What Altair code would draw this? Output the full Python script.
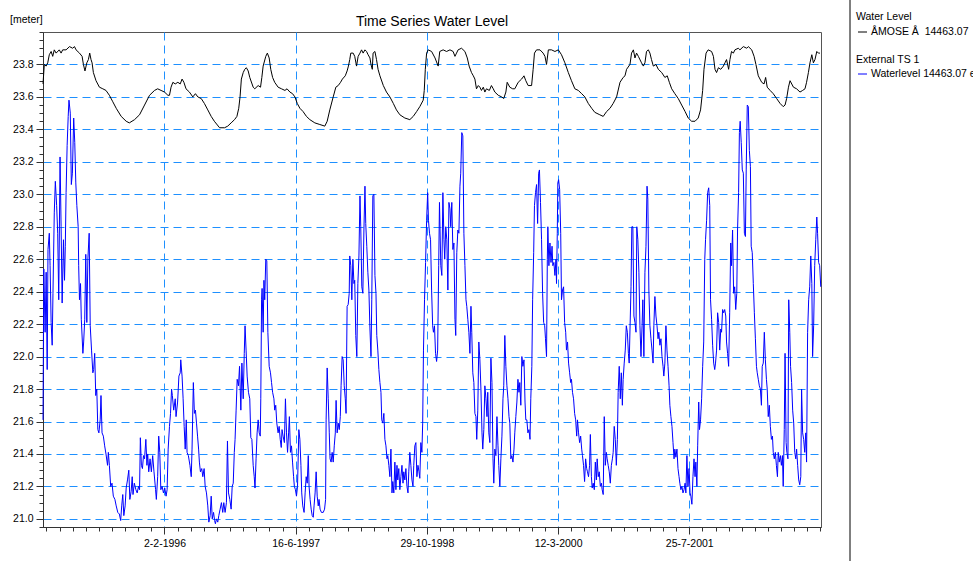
import datetime as dt

import altair as alt
import pandas as pd

# Daily series are shown from this date; offsets below are days after it.
START = dt.date(1994, 10, 27)
END_DAY = 2965

TITLE = "Time Series Water Level"
UNIT = "[meter]"
LEGEND_GROUPS = ["Water Level", "External TS 1"]
LEGEND_ITEMS = ["ÅMOSE Å\u00a0 14463.07", "Waterlevel 14463.07 e"]

# Water level, ÅMOSE Å 14463.07: (day offset, level in m)
LEVEL_A = [(0, 23.68), (5, 23.80), (12, 23.79), (18, 23.81), (24, 23.86), (31, 23.88), (37, 23.85), (43, 23.89),
           (50, 23.87), (62, 23.89), (69, 23.87), (75, 23.89), (88, 23.89), (101, 23.91), (113, 23.90), (120, 23.91),
           (126, 23.89), (139, 23.87), (149, 23.85), (154, 23.80), (160, 23.76), (167, 23.81), (173, 23.83),
           (178, 23.87), (183, 23.83), (187, 23.81), (192, 23.75), (202, 23.70), (215, 23.66), (228, 23.65),
           (240, 23.64), (253, 23.61), (266, 23.57), (279, 23.53), (298, 23.48), (317, 23.45), (329, 23.44),
           (349, 23.46), (368, 23.49), (387, 23.55), (406, 23.61), (425, 23.64), (437, 23.65), (450, 23.64),
           (463, 23.63), (476, 23.61), (482, 23.61), (488, 23.66), (495, 23.69), (504, 23.68), (514, 23.69),
           (523, 23.68), (530, 23.71), (537, 23.69), (545, 23.65), (558, 23.63), (571, 23.60), (581, 23.62),
           (590, 23.60), (603, 23.59), (615, 23.56), (628, 23.52), (641, 23.48), (653, 23.45), (673, 23.41),
           (692, 23.41), (704, 23.42), (717, 23.44), (730, 23.46), (739, 23.48), (746, 23.53), (751, 23.60),
           (756, 23.71)]
LEVEL_B = [(763, 23.75), (769, 23.77), (775, 23.78), (782, 23.76), (788, 23.72), (801, 23.66), (807, 23.65),
           (820, 23.67), (829, 23.66), (834, 23.72), (839, 23.79), (849, 23.85), (855, 23.87), (862, 23.84),
           (868, 23.77), (875, 23.72), (883, 23.69), (896, 23.66), (909, 23.65), (922, 23.64), (930, 23.65),
           (941, 23.63), (951, 23.62), (960, 23.60), (969, 23.56), (979, 23.53), (991, 23.51), (1004, 23.48),
           (1017, 23.46), (1036, 23.44), (1055, 23.43), (1074, 23.42), (1083, 23.45), (1093, 23.52), (1106, 23.60),
           (1116, 23.66), (1125, 23.67), (1134, 23.69), (1141, 23.71), (1152, 23.73), (1159, 23.76), (1164, 23.79),
           (1169, 23.83), (1173, 23.87), (1182, 23.87), (1188, 23.85), (1195, 23.79), (1201, 23.85), (1208, 23.87),
           (1214, 23.89), (1220, 23.87), (1227, 23.89), (1233, 23.88), (1239, 23.86), (1246, 23.84), (1250, 23.80),
           (1255, 23.77), (1258, 23.87), (1265, 23.88), (1271, 23.83), (1277, 23.77), (1284, 23.73), (1297, 23.67),
           (1309, 23.63), (1322, 23.60), (1335, 23.56), (1347, 23.52), (1360, 23.49), (1379, 23.47), (1398, 23.46),
           (1411, 23.48), (1424, 23.51), (1436, 23.54), (1449, 23.58), (1453, 23.64), (1457, 23.77), (1462, 23.87),
           (1468, 23.89), (1481, 23.88), (1494, 23.84), (1506, 23.79)]
LEVEL_C = [(1512, 23.88), (1525, 23.89), (1538, 23.88), (1551, 23.89), (1563, 23.88), (1570, 23.85), (1576, 23.87),
           (1582, 23.89), (1595, 23.90), (1608, 23.88), (1617, 23.84), (1624, 23.79), (1633, 23.75), (1640, 23.73),
           (1646, 23.71), (1652, 23.65), (1659, 23.67), (1665, 23.66), (1671, 23.64), (1678, 23.66), (1684, 23.63),
           (1690, 23.65), (1701, 23.64), (1709, 23.67), (1716, 23.65), (1722, 23.63), (1735, 23.61), (1748, 23.60),
           (1756, 23.59), (1764, 23.63), (1769, 23.69), (1779, 23.66), (1790, 23.65), (1798, 23.65), (1811, 23.69),
           (1824, 23.71), (1833, 23.73), (1840, 23.70), (1849, 23.67), (1862, 23.67), (1868, 23.77), (1873, 23.87),
           (1881, 23.89), (1894, 23.89), (1906, 23.87), (1913, 23.85), (1919, 23.80), (1926, 23.89), (1938, 23.89),
           (1951, 23.88), (1964, 23.89), (1976, 23.86), (1989, 23.81), (2002, 23.75), (2014, 23.70), (2027, 23.65),
           (2040, 23.64), (2053, 23.62), (2065, 23.60), (2078, 23.56), (2091, 23.53), (2103, 23.505), (2122, 23.49),
           (2135, 23.48), (2148, 23.51), (2161, 23.53), (2173, 23.56), (2186, 23.60), (2199, 23.69), (2211, 23.72),
           (2218, 23.73), (2224, 23.77), (2237, 23.80), (2243, 23.87), (2250, 23.89), (2256, 23.84), (2262, 23.87),
           (2269, 23.85)]
LEVEL_D = [(2281, 23.81), (2288, 23.79), (2294, 23.81), (2300, 23.88), (2307, 23.89), (2313, 23.87), (2319, 23.83),
           (2326, 23.79), (2336, 23.80), (2345, 23.77), (2358, 23.75), (2370, 23.72), (2379, 23.73), (2387, 23.69),
           (2396, 23.65), (2408, 23.62), (2421, 23.59), (2434, 23.55), (2447, 23.51), (2459, 23.47), (2472, 23.45),
           (2485, 23.45), (2497, 23.47), (2506, 23.52), (2514, 23.64), (2519, 23.77), (2527, 23.87), (2535, 23.89),
           (2548, 23.88), (2555, 23.85), (2561, 23.77), (2567, 23.75), (2574, 23.78), (2583, 23.77), (2593, 23.79),
           (2599, 23.81), (2605, 23.83), (2613, 23.77), (2618, 23.83), (2624, 23.88), (2631, 23.87), (2637, 23.89),
           (2650, 23.90), (2656, 23.89), (2669, 23.91), (2682, 23.90), (2688, 23.91), (2701, 23.89), (2710, 23.85),
           (2717, 23.80), (2726, 23.73), (2739, 23.69), (2748, 23.68), (2754, 23.72), (2760, 23.66), (2771, 23.64),
           (2783, 23.62), (2796, 23.59), (2809, 23.56), (2821, 23.54), (2828, 23.55), (2834, 23.59), (2841, 23.66),
           (2847, 23.70), (2860, 23.66), (2872, 23.65), (2885, 23.63), (2895, 23.64), (2904, 23.65), (2910, 23.69),
           (2917, 23.75), (2923, 23.81), (2930, 23.86), (2936, 23.81), (2942, 23.83), (2949, 23.88), (2955, 23.87),
           (2961, 23.87)]

# External TS 1, Waterlevel 14463.07: (day offset, level in m)
EXT_A = [(0, 21.61), (3, 22.54), (8, 22.15), (12, 22.52), (16, 21.92), (19, 22.66), (24, 22.76), (27, 22.56),
         (31, 22.21), (35, 22.07), (38, 22.39), (43, 22.89), (47, 23.08), (52, 22.93), (56, 22.76), (60, 22.35),
         (65, 23.23), (69, 22.80), (73, 22.33), (78, 22.72), (82, 22.47), (85, 22.68), (88, 23.01), (92, 23.30),
         (96, 23.48), (99, 23.58), (104, 23.50), (108, 23.06), (112, 23.13), (117, 23.47), (121, 23.32), (125, 23.07),
         (129, 22.93), (134, 22.80), (136, 22.56), (139, 22.35), (143, 22.45), (146, 22.23), (152, 22.02),
         (155, 22.09), (159, 22.23), (163, 22.63), (167, 22.21), (171, 22.60), (176, 22.76), (180, 22.19),
         (185, 22.04), (190, 21.90), (193, 21.92), (197, 22.02), (201, 21.76), (205, 21.80), (209, 21.55),
         (213, 21.53), (218, 21.61), (221, 21.76), (225, 21.53), (230, 21.51), (235, 21.45), (240, 21.40),
         (246, 21.33), (249, 21.41), (253, 21.33), (258, 21.20), (263, 21.22), (268, 21.14), (274, 21.12),
         (279, 21.08), (285, 21.04), (291, 21.03), (296, 20.99), (300, 21.08), (304, 21.15), (308, 21.02),
         (313, 21.08), (317, 21.19), (322, 21.24), (327, 21.30), (331, 21.12), (336, 21.17), (340, 21.26),
         (343, 21.15), (348, 21.22), (354, 21.18), (359, 21.16), (364, 21.20), (368, 21.18), (371, 21.50),
         (375, 21.33), (379, 21.31), (383, 21.39), (387, 21.37), (392, 21.49), (396, 21.33), (399, 21.40),
         (403, 21.29), (408, 21.37), (413, 21.29), (418, 21.39), (423, 21.29), (429, 21.18), (432, 21.12),
         (437, 21.26), (441, 21.51), (445, 21.41), (449, 21.18), (454, 21.20), (459, 21.16), (464, 21.19),
         (469, 21.14), (473, 21.18), (477, 21.43), (482, 21.57), (486, 21.65), (490, 21.80), (493, 21.76),
         (498, 21.67), (504, 21.74), (507, 21.63), (513, 21.72), (518, 21.88), (523, 21.90), (525, 21.98),
         (530, 21.88), (534, 21.74), (538, 21.57), (542, 21.43), (546, 21.61), (549, 21.41), (554, 21.39),
         (560, 21.33), (565, 21.26), (568, 21.43), (573, 21.84), (577, 21.65), (581, 21.67), (585, 21.59),
         (589, 21.51), (593, 21.43), (596, 21.35), (600, 21.29), (605, 21.31), (609, 21.26), (614, 21.31),
         (618, 21.20), (623, 21.16), (628, 21.08), (632, 20.98), (637, 21.02), (641, 21.14), (645, 21.00),
         (650, 21.04), (654, 20.99), (657, 20.97), (661, 21.00), (666, 20.98), (670, 21.02), (675, 21.06),
         (680, 21.10), (685, 21.04), (689, 21.10), (694, 21.04), (699, 21.10), (703, 21.48), (707, 21.16),
         (712, 21.12), (717, 21.06), (721, 21.20), (725, 21.22), (729, 21.41), (732, 21.49), (736, 21.67),
         (740, 21.86), (745, 21.82), (749, 21.94)]
EXT_B = [(754, 21.67), (758, 21.96), (763, 21.74), (767, 22.02), (770, 22.19), (774, 22.04), (778, 21.88),
         (783, 21.78), (788, 21.74), (792, 21.50), (796, 21.49), (801, 21.33), (805, 21.26), (808, 21.19),
         (812, 21.37), (816, 21.53), (820, 21.61), (824, 21.53), (828, 21.51), (830, 21.74), (833, 22.35),
         (835, 22.42), (839, 22.15), (842, 22.47), (845, 22.35), (849, 22.60), (853, 22.59), (857, 22.15),
         (862, 21.94), (867, 21.90), (871, 21.84), (875, 21.78), (880, 21.74), (883, 21.67), (887, 21.70),
         (891, 21.59), (896, 21.53), (900, 21.57), (904, 21.49), (908, 21.44), (911, 21.55), (915, 21.51),
         (920, 21.47), (924, 21.74), (928, 21.53), (932, 21.41), (936, 21.53), (939, 21.63), (943, 21.41),
         (947, 21.45), (951, 21.35), (955, 21.26), (958, 21.20), (962, 21.18), (966, 21.14), (970, 21.20),
         (975, 21.55), (979, 21.49), (983, 21.33), (986, 21.16), (990, 21.08), (995, 21.04), (999, 21.16),
         (1003, 21.26), (1007, 21.22), (1011, 21.39), (1014, 21.20), (1018, 21.12), (1022, 21.06), (1026, 21.02),
         (1030, 21.01), (1033, 21.08), (1037, 21.16), (1041, 21.29), (1045, 21.14), (1049, 21.08), (1052, 21.12),
         (1056, 21.06), (1061, 21.04), (1068, 21.04), (1073, 21.06), (1077, 21.12), (1079, 21.61), (1083, 21.93),
         (1087, 21.74), (1091, 21.53), (1094, 21.37), (1098, 21.35), (1102, 21.41), (1106, 21.35), (1110, 21.45),
         (1114, 21.53), (1117, 21.73), (1121, 21.53), (1125, 21.59), (1129, 21.55), (1133, 21.63), (1136, 21.82),
         (1140, 22.00), (1144, 21.98), (1148, 21.82), (1152, 21.74), (1155, 21.65), (1159, 22.31), (1163, 22.32),
         (1167, 22.39), (1169, 22.62), (1173, 22.56), (1177, 22.35), (1181, 22.60), (1185, 22.45), (1188, 22.47),
         (1192, 22.13), (1196, 22.00), (1200, 22.45), (1204, 22.62), (1208, 22.99), (1211, 22.80), (1215, 22.43),
         (1219, 22.39), (1223, 22.78), (1227, 23.05), (1230, 22.82), (1234, 22.68), (1238, 22.52), (1242, 22.41),
         (1246, 22.17), (1250, 22.00), (1253, 22.35), (1257, 22.99), (1261, 23.00), (1265, 22.50), (1269, 22.39),
         (1272, 22.13), (1276, 22.04), (1280, 21.92), (1284, 21.84), (1288, 21.78), (1291, 21.61), (1295, 21.59),
         (1299, 21.65), (1303, 21.49), (1307, 21.45), (1311, 21.37), (1314, 21.39), (1318, 21.33), (1322, 21.26),
         (1326, 21.43), (1330, 21.16), (1333, 21.23), (1337, 21.16), (1341, 21.35), (1345, 21.18), (1349, 21.33),
         (1352, 21.24), (1356, 21.31), (1360, 21.18), (1364, 21.26), (1368, 21.33), (1372, 21.22), (1375, 21.29),
         (1379, 21.24), (1383, 21.31), (1387, 21.20), (1391, 21.16), (1394, 21.29), (1398, 21.41), (1402, 21.33),
         (1406, 21.24), (1410, 21.20), (1413, 21.33), (1417, 21.45), (1421, 21.47), (1425, 21.26), (1429, 21.33),
         (1433, 21.29), (1436, 21.25), (1440, 21.47), (1444, 21.41), (1447, 21.59), (1450, 22.04), (1454, 22.35),
         (1458, 22.58), (1462, 22.84), (1466, 23.01), (1469, 22.84), (1473, 22.76), (1477, 22.72), (1481, 22.41),
         (1485, 22.19), (1488, 22.15), (1492, 22.19), (1496, 22.02), (1500, 21.97), (1504, 22.04), (1508, 22.56),
         (1511, 22.95)]
EXT_C = [(1516, 22.56), (1520, 22.50), (1524, 23.01), (1528, 22.72), (1531, 22.60), (1535, 22.80), (1539, 22.72),
         (1543, 22.41), (1547, 22.95), (1551, 22.91), (1554, 22.80), (1558, 22.95), (1562, 22.66), (1566, 22.70),
         (1570, 22.23), (1573, 22.13), (1577, 22.64), (1581, 22.78), (1585, 22.76), (1589, 23.05), (1592, 23.13),
         (1596, 23.38), (1600, 23.36), (1604, 22.76), (1608, 22.56), (1612, 22.35), (1615, 22.31), (1619, 22.23),
         (1623, 22.15), (1627, 22.02), (1631, 22.31), (1634, 22.15), (1638, 21.90), (1642, 21.84), (1646, 21.65),
         (1650, 21.63), (1653, 21.49), (1657, 21.67), (1661, 22.09), (1665, 21.98), (1669, 21.80), (1673, 21.53),
         (1676, 21.43), (1680, 21.55), (1684, 21.82), (1688, 21.74), (1692, 21.63), (1695, 21.78), (1699, 21.53),
         (1703, 21.47), (1707, 21.99), (1711, 21.84), (1715, 21.37), (1718, 21.22), (1722, 21.43), (1726, 21.39),
         (1730, 21.63), (1734, 21.45), (1737, 21.33), (1741, 21.20), (1745, 21.37), (1749, 21.51), (1753, 21.74),
         (1756, 21.82), (1760, 22.13), (1764, 21.94), (1768, 21.82), (1772, 21.74), (1776, 21.63), (1779, 21.59),
         (1783, 21.37), (1787, 21.39), (1791, 21.35), (1795, 21.43), (1798, 21.53), (1802, 21.63), (1806, 21.72),
         (1810, 21.86), (1814, 21.78), (1817, 21.84), (1821, 21.70), (1825, 22.00), (1829, 21.94), (1833, 21.98),
         (1837, 21.72), (1840, 21.61), (1844, 21.61), (1848, 21.53), (1852, 21.55), (1856, 21.49), (1859, 21.74),
         (1863, 21.94), (1866, 22.35), (1870, 22.64), (1873, 22.93), (1877, 23.01), (1881, 23.06), (1885, 22.82),
         (1889, 23.13), (1892, 23.15), (1896, 22.95), (1900, 22.72), (1904, 22.39), (1908, 22.21), (1912, 22.19),
         (1915, 22.11), (1919, 22.00), (1922, 22.60), (1924, 22.80), (1928, 22.56), (1932, 22.70), (1936, 22.58),
         (1940, 22.68), (1943, 22.56), (1947, 22.58), (1951, 22.50), (1955, 22.60), (1957, 22.45), (1960, 22.76),
         (1962, 23.07), (1965, 23.09), (1969, 23.03), (1973, 22.76), (1976, 22.35), (1980, 22.41), (1984, 22.43),
         (1988, 22.21), (1992, 22.15), (1995, 22.04), (1999, 22.09), (2003, 21.96), (2007, 21.90), (2011, 21.84),
         (2014, 21.86), (2018, 21.78), (2022, 21.74), (2026, 21.65), (2030, 21.61), (2034, 21.51), (2037, 21.61),
         (2041, 21.53), (2045, 21.47), (2049, 21.51), (2053, 21.43), (2056, 21.39), (2060, 21.33), (2064, 21.23),
         (2068, 21.37), (2072, 21.31), (2075, 21.29), (2079, 21.26), (2083, 21.33), (2086, 21.52), (2090, 21.26),
         (2093, 21.19), (2097, 21.22), (2101, 21.18), (2105, 21.35), (2109, 21.24), (2112, 21.37), (2116, 21.26),
         (2120, 21.29), (2124, 21.20), (2128, 21.22), (2131, 21.18), (2135, 21.15), (2139, 21.63), (2143, 21.33),
         (2147, 21.41), (2150, 21.37), (2154, 21.33), (2158, 21.29), (2162, 21.22), (2166, 21.33), (2170, 21.37),
         (2173, 21.41), (2177, 21.57), (2181, 21.49), (2185, 21.33), (2189, 21.49), (2192, 21.78), (2196, 21.94),
         (2200, 21.74), (2204, 21.90), (2208, 21.70), (2211, 21.86), (2215, 21.96), (2219, 22.04), (2223, 22.19),
         (2227, 22.15), (2231, 22.02), (2234, 21.96)]
EXT_D = [(2241, 22.43), (2244, 22.80), (2248, 22.80), (2252, 22.25), (2256, 22.21), (2260, 22.15), (2263, 22.80),
         (2267, 22.72), (2271, 22.52), (2275, 22.19), (2279, 22.00), (2283, 22.19), (2286, 22.35), (2290, 22.00),
         (2294, 22.52), (2298, 22.68), (2302, 23.05), (2305, 22.97), (2309, 22.41), (2313, 22.19), (2317, 22.11),
         (2321, 22.04), (2325, 21.96), (2328, 22.19), (2332, 22.37), (2336, 22.25), (2340, 22.19), (2344, 22.11),
         (2347, 22.15), (2351, 22.07), (2355, 22.11), (2359, 22.00), (2363, 21.94), (2366, 21.88), (2370, 21.96),
         (2374, 22.19), (2378, 22.04), (2382, 21.94), (2386, 21.82), (2389, 21.70), (2393, 21.63), (2397, 21.57),
         (2401, 21.47), (2405, 21.37), (2408, 21.43), (2412, 21.38), (2416, 21.43), (2420, 21.31), (2424, 21.26),
         (2427, 21.22), (2431, 21.18), (2435, 21.20), (2439, 21.16), (2443, 21.18), (2447, 21.22), (2450, 21.16),
         (2454, 21.39), (2458, 21.20), (2462, 21.31), (2466, 21.16), (2469, 21.14), (2473, 21.09), (2477, 21.26),
         (2481, 21.37), (2485, 21.26), (2488, 21.35), (2492, 21.20), (2495, 21.45), (2499, 21.72), (2502, 21.55),
         (2506, 21.61), (2510, 21.74), (2514, 21.94), (2518, 22.09), (2522, 22.60), (2525, 22.72), (2529, 22.84),
         (2533, 23.01), (2537, 23.04), (2541, 22.93), (2544, 22.35), (2548, 22.23), (2552, 22.07), (2556, 21.96),
         (2560, 21.92), (2563, 21.96), (2567, 22.04), (2571, 22.27), (2575, 22.21), (2579, 22.04), (2583, 22.17),
         (2586, 22.15), (2590, 22.29), (2594, 22.27), (2598, 22.29), (2602, 22.25), (2605, 22.09), (2609, 22.02),
         (2613, 21.94), (2617, 22.27), (2621, 22.70), (2624, 22.56), (2628, 22.78), (2632, 22.39), (2636, 22.43),
         (2640, 22.29), (2644, 22.39), (2647, 22.78), (2651, 23.01), (2654, 23.38), (2657, 23.45), (2661, 23.32),
         (2665, 23.15), (2669, 23.13), (2673, 22.76), (2677, 22.74), (2680, 23.15), (2684, 23.55), (2688, 23.54),
         (2692, 23.27), (2696, 23.17), (2699, 22.68), (2703, 22.64), (2707, 22.45), (2711, 22.27), (2715, 22.11),
         (2719, 21.94), (2722, 21.90), (2726, 21.86), (2730, 21.82), (2734, 21.80), (2738, 21.70), (2741, 21.94),
         (2745, 21.96), (2749, 22.15), (2753, 21.98), (2757, 21.86), (2760, 21.80), (2764, 21.63), (2768, 21.70),
         (2772, 21.57), (2776, 21.49), (2780, 21.51), (2783, 21.41), (2787, 21.37), (2791, 21.41), (2795, 21.33),
         (2799, 21.26), (2802, 21.41), (2806, 21.35), (2810, 21.39), (2814, 21.33), (2818, 21.39), (2821, 21.20),
         (2825, 21.55), (2828, 22.02), (2832, 21.47), (2835, 21.41), (2839, 21.37), (2842, 22.35), (2846, 22.15),
         (2849, 21.94), (2853, 21.84), (2857, 21.67), (2861, 21.59), (2865, 21.41), (2869, 21.37), (2872, 21.43),
         (2876, 21.33), (2880, 21.24), (2884, 21.21), (2888, 21.26), (2891, 21.80), (2895, 21.53), (2899, 21.49),
         (2903, 21.41), (2907, 21.53), (2910, 21.35), (2914, 22.15), (2918, 22.35), (2922, 22.43), (2926, 22.62),
         (2930, 22.45), (2933, 22.00), (2937, 22.19), (2941, 22.56), (2945, 22.72), (2949, 22.86), (2952, 22.76),
         (2956, 22.58), (2960, 22.56), (2964, 22.43)]

FONT = "Liberation Sans"
GRID_BLUE = "#1E90FF"
EPOCH = dt.datetime(1970, 1, 1)


def day_ms(day):
    moment = dt.datetime.combine(START, dt.time()) + dt.timedelta(days=day)
    return int((moment - EPOCH).total_seconds() * 1000)


def frame(*segments):
    rows = [((START + dt.timedelta(days=d)).isoformat(), v) for seg in segments for d, v in seg]
    return pd.DataFrame(rows, columns=["date", "level"])


level_df = frame(LEVEL_A, LEVEL_B, LEVEL_C, LEVEL_D)
ext_df = frame(EXT_A, EXT_B, EXT_C, EXT_D)

# Ticks every 50 days, labelled every 500 days from 2 Feb 1996 (the last one sits on the frame).
LABEL_ANCHOR = day_ms(463)
x_ticks = [day_ms(d) for d in range(13, END_DAY + 1, 50)]
x_major = (f"abs(((time(datum.value) - {LABEL_ANCHOR}) / 86400000) % 500) < 0.5"
           f" && time(datum.value) < {day_ms(2900)}")

# Ticks every 0.05 m, labelled every 0.2 m.
y_ticks = [round(20.95 + 0.05 * i, 2) for i in range(62)]
y_major = "abs(datum.value * 5 - round(datum.value * 5)) < 0.01 && datum.value < 23.95"

x_scale = alt.Scale(type="utc", domain=[day_ms(0), day_ms(END_DAY)], nice=False)
y_scale = alt.Scale(domain=[20.95, 24.0], nice=False, zero=False)

common_axis = dict(
    title=None, grid=True, gridColor=GRID_BLUE, gridDash=[8, 5], gridWidth=1,
    labelFont=FONT, labelFontSize=10.5, labelColor="#000", labelOverlap=False,
    labelFlush=False, domainColor="#333", tickColor="#333", tickWidth=1,
)
x_axis = alt.Axis(
    values=x_ticks, format="%-d-%-m-%Y",
    labelExpr=f"{x_major} ? datum.label : ''",
    tickSize={"condition": {"test": x_major, "value": 7}, "value": 4},
    gridOpacity={"condition": {"test": x_major, "value": 1}, "value": 0},
    labelPadding=4, **common_axis,
)
y_axis = alt.Axis(
    values=y_ticks, format=".1f",
    labelExpr=f"{y_major} ? datum.label : ''",
    tickSize={"condition": {"test": y_major, "value": 7}, "value": 4},
    gridOpacity={"condition": {"test": y_major, "value": 1}, "value": 0},
    labelPadding=3, **common_axis,
)

x_enc = alt.X("date:T", scale=x_scale, axis=x_axis)
y_enc = alt.Y("level:Q", scale=y_scale, axis=y_axis)

external = alt.Chart(ext_df).mark_line(color="#0000FF", strokeWidth=1).encode(x=x_enc, y=y_enc)
level = alt.Chart(level_df).mark_line(color="#000000", strokeWidth=1).encode(x=x_enc, y=y_enc)


def text(content, x, y, size=10.5, align="left"):
    return alt.Chart(alt.Data(values=[{}])).mark_text(
        text=content, align=align, baseline="middle", font=FONT, fontSize=size, color="#000"
    ).encode(x=alt.value(x), y=alt.value(y))


def swatch(color, y):
    return alt.Chart(alt.Data(values=[{}])).mark_rule(color=color, strokeWidth=1).encode(
        x=alt.value(815), x2=alt.value(824), y=alt.value(y)
    )


separator = alt.Chart(alt.Data(values=[{}])).mark_rule(color="#000", strokeWidth=1).encode(
    x=alt.value(807), y=alt.value(-32), y2=alt.value(529)
)

chart = alt.layer(
    external,
    level,
    text(TITLE, 389, -10, size=14, align="center"),
    text(UNIT, -33, -12),
    separator,
    text(LEGEND_GROUPS[0], 813, -15),
    swatch("#000000", 0),
    text(LEGEND_ITEMS[0], 828, 0),
    text(LEGEND_GROUPS[1], 813, 28),
    swatch("#0000FF", 42),
    text(LEGEND_ITEMS[1], 828, 42),
).properties(
    width=778,
    height=495,
    padding={"left": 43, "top": 32, "right": 152, "bottom": 34},
    autosize=alt.AutoSizeParams(type="none"),
    background="#FFFFFF",
).configure_view(stroke="#555", strokeWidth=1)

chart.save("out.html", embed_options={"renderer": "svg", "actions": False})
